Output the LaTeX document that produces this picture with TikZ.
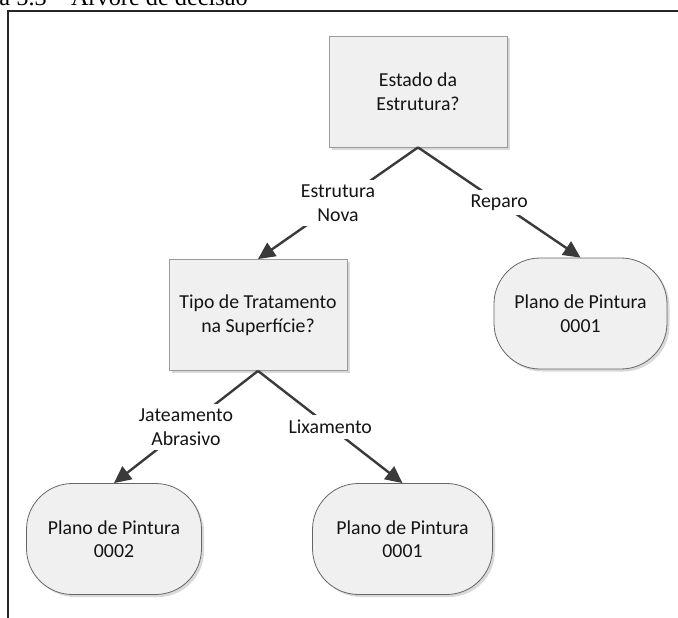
\documentclass[tikz,border=0pt]{standalone}
\usepackage{fontspec}
\setmainfont{Carlito}
\newfontfamily\capfont{Liberation Serif}
\usetikzlibrary{arrows.meta,shadows}

\definecolor{boxfill}{HTML}{F0F0F0}
\definecolor{boxedge}{HTML}{9A9A9A}
\definecolor{endedge}{HTML}{666666}
\definecolor{arrowcol}{HTML}{3A3A3A}
\definecolor{framecol}{HTML}{262626}

\tikzset{
  txt/.style={font=\fontsize{19.8}{23.5}\selectfont, text=black!92, align=center},
  question/.style={txt, rectangle, draw=boxedge, line width=0.8pt, fill=boxfill,
    minimum width=178pt, minimum height=111pt, inner sep=0pt,
    drop shadow={shadow xshift=2.5pt, shadow yshift=-2.5pt, fill=black!25, opacity=0.6}},
  outcome/.style={txt, rectangle, rounded corners=46pt, draw=endedge, line width=0.8pt,
    fill=boxfill, minimum height=111pt, inner sep=0pt,
    drop shadow={shadow xshift=2.5pt, shadow yshift=-2.5pt, fill=black!25, opacity=0.6}},
  branch/.style={draw=arrowcol, line width=2.4pt,
    -{Triangle[length=17pt,width=16pt]}},
  lbl/.style={txt, fill=white, inner xsep=3pt, inner ysep=5pt}
}

\begin{document}
\begin{tikzpicture}[x=1pt,y=-1pt]
  \useasboundingbox (0,0) rectangle (678,618);
  \clip (0,0) rectangle (678,618);

  % caption line above the frame
  \node[anchor=base east, inner sep=0pt, font=\capfont\fontsize{24.3}{28}\selectfont]
    (caption) at (248,5.5) {Figura 5.3 – Árvore de decisão};

  % figure frame
  \draw[framecol, line width=2.4pt] (8,640) -- (8,11) -- (700,11);

  % decision nodes
  \node[question] (estado) at (418,91.5) {Estado da\\Estrutura?};
  \node[question] (tipo) at (258,315) {Tipo de Tratamento\\na Superfície?};

  % end nodes
  \node[outcome, minimum width=173pt] (repa) at (580.5,313.5) {Plano de Pintura\\0001};
  \node[outcome, minimum width=175pt] (jato) at (114,539) {Plano de Pintura\\0002};
  \node[outcome, minimum width=180pt] (lixa) at (402.5,539) {Plano de Pintura\\0001};

  % branches
  \draw[branch] (estado.south) -- node[lbl] {Estrutura\\Nova} (tipo.north);
  \draw[branch] (estado.south) -- node[lbl] {Reparo} (repa.north);
  \draw[branch] (tipo.south) -- node[lbl] {Jateamento\\Abrasivo} (jato.north);
  \draw[branch] (tipo.south) -- node[lbl] {Lixamento} (lixa.north);
\end{tikzpicture}
\end{document}
